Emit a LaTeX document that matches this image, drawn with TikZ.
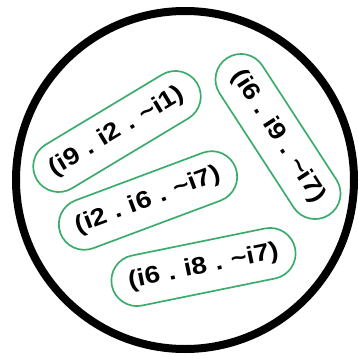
\documentclass[tikz,border=0pt]{standalone}
\usepackage{fontspec}
\setmainfont{Liberation Sans}
\newfontfamily\clausefont[FakeStretch=1.15]{Liberation Sans}
\definecolor{clausegreen}{RGB}{60,172,108}
\newcommand{\gap}{\hspace{8.5pt}}
\begin{document}
\begin{tikzpicture}[x=1pt, y=-1pt,
  clause/.style={draw=clausegreen, line width=1.7pt, rounded corners=25.5pt,
    minimum width=187pt, minimum height=51pt, inner sep=0pt,
    font=\clausefont\fontsize{24}{24}\selectfont\bfseries}]
  \useasboundingbox (0,0) rectangle (359,359);
  \node[draw, circle, line width=8pt, minimum size=338pt] (cell) at (185,180) {};
  \node[clause, rotate=31] (c1) at (117,131.5) {(i9\gap.\gap i2\gap.\gap\textasciitilde i1)};
  \node[clause, rotate=20.5] (c2) at (148,200.5) {(i2\gap.\gap i6\gap.\gap\textasciitilde i7)};
  \node[clause, rotate=11.5] (c3) at (203.5,267) {(i6\gap.\gap i8\gap.\gap\textasciitilde i7)};
  \node[clause, rotate=-57] (c4) at (278,136.5) {(i6\gap.\gap i9\gap.\gap\textasciitilde i7)};
\end{tikzpicture}
\end{document}
